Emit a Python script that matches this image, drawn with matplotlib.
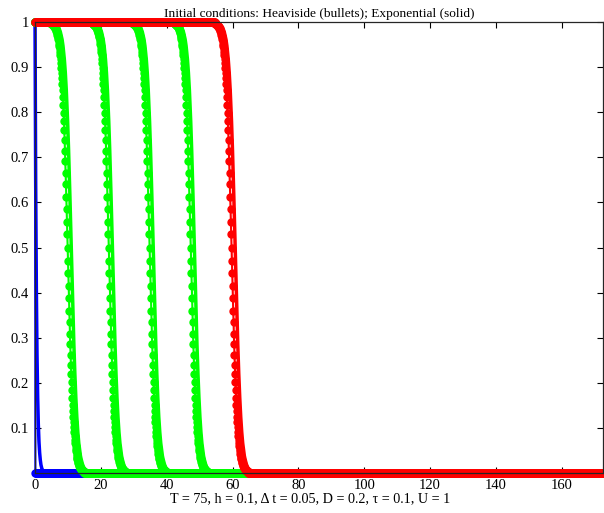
import numpy as np
import matplotlib.pyplot as plt

plt.rcParams['font.family'] = ['Liberation Serif', 'DejaVu Serif']

# grid of the run (h = 0.1 from the label), right end
h = 0.1
x_max = 172.5
x = np.arange(0, x_max + h / 2, h)

# right half of the travelling front, u(c + d) for d = 0, 0.1, ..., 5.0
# (read off the bullets; the left half mirrors it: u(c - d) = 1 - u(c + d))
front_half = [0.500, 0.471, 0.443, 0.415, 0.387, 0.360, 0.334, 0.309, 0.285, 0.262,
              0.240, 0.220, 0.201, 0.183, 0.167, 0.151, 0.137, 0.124, 0.112, 0.101,
              0.091, 0.082, 0.074, 0.066, 0.060, 0.053, 0.048, 0.043, 0.038, 0.034,
              0.031, 0.028, 0.025, 0.022, 0.020, 0.018, 0.016, 0.014, 0.012, 0.011,
              0.010, 0.009, 0.008, 0.007, 0.006, 0.0055, 0.005, 0.0045, 0.004, 0.0035,
              0.003]

# front centres (u = 0.5) of the Heaviside runs, output times in order
front_centres = [9.9, 22.4, 34.8, 47.3, 59.7]
front_colors = ['#00ff00', '#00ff00', '#00ff00', '#00ff00', '#ff0000']
# the exponential runs sit a bit ahead of the Heaviside ones
exp_shift = 1.1

# initial exponential profile at x = 0, 0.1, ..., 2.5 (zero beyond)
init_exp_u = [1.0, 0.801, 0.641, 0.513, 0.411, 0.329, 0.264, 0.211, 0.169, 0.135,
              0.108, 0.087, 0.069, 0.056, 0.045, 0.036, 0.029, 0.023, 0.018, 0.015,
              0.012, 0.009, 0.008, 0.006, 0.005, 0.004]

half = np.array(front_half)
profile = np.concatenate([1 - half[:0:-1], half])
n_half = len(front_half) - 1


def front(c):
    u = np.where(x < c, 1.0, 0.0)
    i0 = int(round(c / h))
    idx = np.arange(i0 - n_half, i0 + n_half + 1)
    ok = (idx >= 0) & (idx < len(x))
    u[idx[ok]] = profile[ok]
    return u


fig = plt.figure(figsize=(6.04, 5.13), dpi=100)
ax = fig.add_axes([0.058, 0.078, 0.94, 0.879])

# initial conditions
u_heav = np.zeros_like(x)
u_heav[0] = 1.0
u_exp = np.zeros_like(x)
u_exp[:len(init_exp_u)] = init_exp_u
ax.plot(x, u_heav, '-o', color='#0000ff', ms=5, lw=1.5, clip_on=False)
ax.plot(x, u_exp, '-', color='#0000ff', lw=2.5, clip_on=False)

# later times
for c, col in zip(front_centres, front_colors):
    ax.plot(x, front(c), '-o', color=col, ms=5, lw=1.5, clip_on=False)
    ax.plot(x, front(c + exp_shift), '-', color=col, lw=2.5, clip_on=False)

ax.set_xlim(0, x_max)
ax.set_ylim(0, 1)
ax.set_xticks(np.arange(0, 161, 20))
ax.set_yticks(np.arange(1, 11) / 10)
ax.set_yticklabels(['0.1', '0.2', '0.3', '0.4', '0.5', '0.6', '0.7', '0.8', '0.9', '1'])
ax.tick_params(direction='in', length=4, width=0.8, top=True, right=True,
               labelsize=10.5, pad=4.5)
for s in ax.spines.values():
    s.set_linewidth(0.9)
    s.set_color('#262626')

ax.set_title('Initial conditions: Heaviside (bullets); Exponential (solid)',
             fontsize=9.6, pad=4)
ax.set_xlabel('T = 75, h = 0.1, \u0394 t = 0.05, D = 0.2, \u03c4 = 0.1, U = 1',
              fontsize=10.2)
ax.xaxis.set_label_coords(0.484, -0.042)

fig.savefig('out.png', dpi=100)
